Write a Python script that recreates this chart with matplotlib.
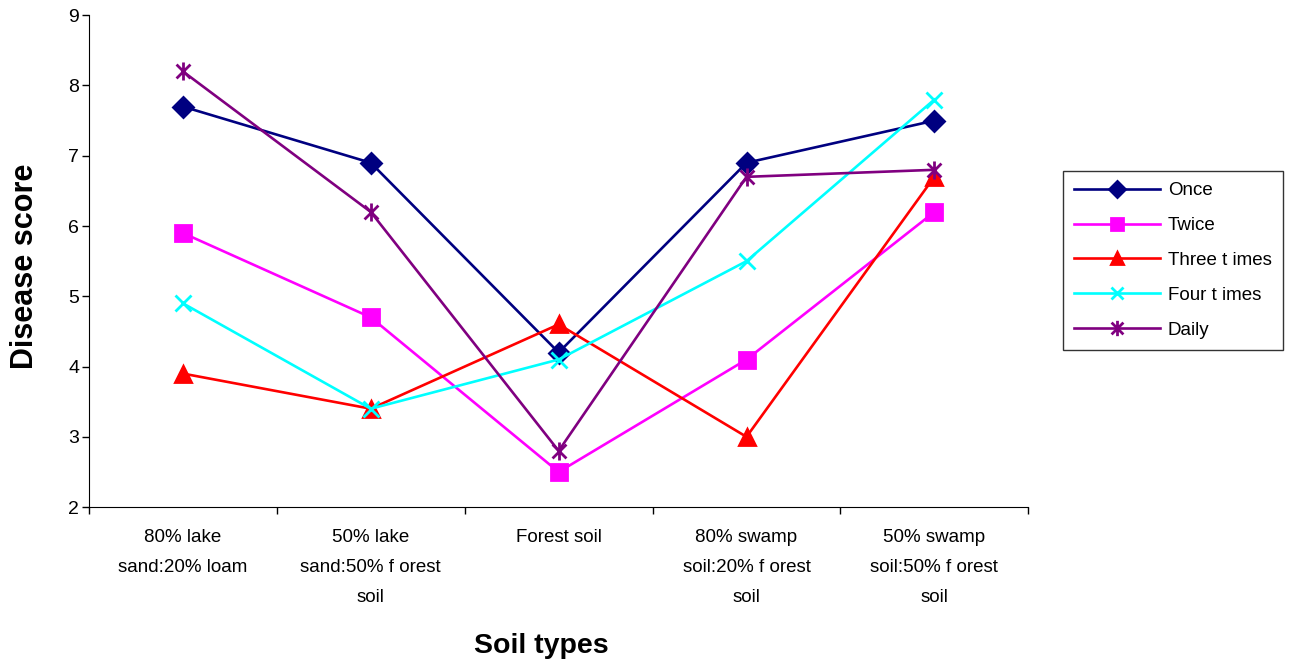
import matplotlib.pyplot as plt
import numpy as np
from matplotlib.path import Path

plt.rcParams['font.family'] = ['Liberation Sans', 'DejaVu Sans']

# soil categories and disease scores
soils = ['80% lake\nsand:20% loam', '50% lake\nsand:50% f orest\nsoil', 'Forest soil',
         '80% swamp\nsoil:20% f orest\nsoil', '50% swamp\nsoil:50% f orest\nsoil']
once = [7.7, 6.9, 4.2, 6.9, 7.5]
twice = [5.9, 4.7, 2.5, 4.1, 6.2]
three_times = [3.9, 3.4, 4.6, 3.0, 6.7]
four_times = [4.9, 3.4, 4.1, 5.5, 7.8]
daily = [8.2, 6.2, 2.8, 6.7, 6.8]

# asterisk like Excel's: an x plus a vertical stroke
star = Path([(-1, -1), (1, 1), (-1, 1), (1, -1), (0, -1.3), (0, 1.3)],
            [Path.MOVETO, Path.LINETO, Path.MOVETO, Path.LINETO, Path.MOVETO, Path.LINETO])

series = [
    ('Once', once, '#000080', 'D', 10),
    ('Twice', twice, '#FF00FF', 's', 11),
    ('Three t imes', three_times, '#FF0000', '^', 11),
    ('Four t imes', four_times, '#00FFFF', 'x', 11),
    ('Daily', daily, '#800080', star, 13),
]

fig = plt.figure(figsize=(13.01, 6.62), dpi=100)
ax = fig.add_axes([0.0684, 0.234, 0.722, 0.743])

x = np.arange(len(soils))
for name, vals, col, mk, ms in series:
    ax.plot(x, vals, color=col, lw=1.9, marker=mk, markersize=ms,
            markerfacecolor=col, markeredgecolor=col, markeredgewidth=2, label=name)

ax.set_xlim(-0.5, len(soils) - 0.5)
ax.set_ylim(2, 9)
ax.set_yticks(range(2, 10))
ax.set_xticks(x)
ax.set_xticklabels(soils, fontsize=13.5, linespacing=1.98)
ax.set_xticks(np.arange(-0.5, len(soils), 1), minor=True)
ax.tick_params(axis='x', which='major', length=0, pad=16)
ax.tick_params(axis='x', which='minor', length=5, width=1, direction='out')
ax.tick_params(axis='y', length=5, width=1, labelsize=14, pad=2)
ax.spines['top'].set_visible(False)
ax.spines['right'].set_visible(False)

fig.text(0.416, 0.013, 'Soil types', fontsize=20.5, fontweight='bold', ha='center')
fig.text(0.019, 0.597, 'Disease score', fontsize=22, fontweight='bold', rotation=90,
         ha='center', va='center')

leg = fig.legend(loc='upper left', bbox_to_anchor=(0.817, 0.742), borderaxespad=0,
                 fontsize=13.5, frameon=True, fancybox=False, edgecolor='black',
                 handlelength=4.6, labelspacing=0.95, borderpad=0.6, handletextpad=0.4,
                 markerscale=0.85)
leg.get_frame().set_linewidth(1)

fig.savefig('out.png', dpi=100)
